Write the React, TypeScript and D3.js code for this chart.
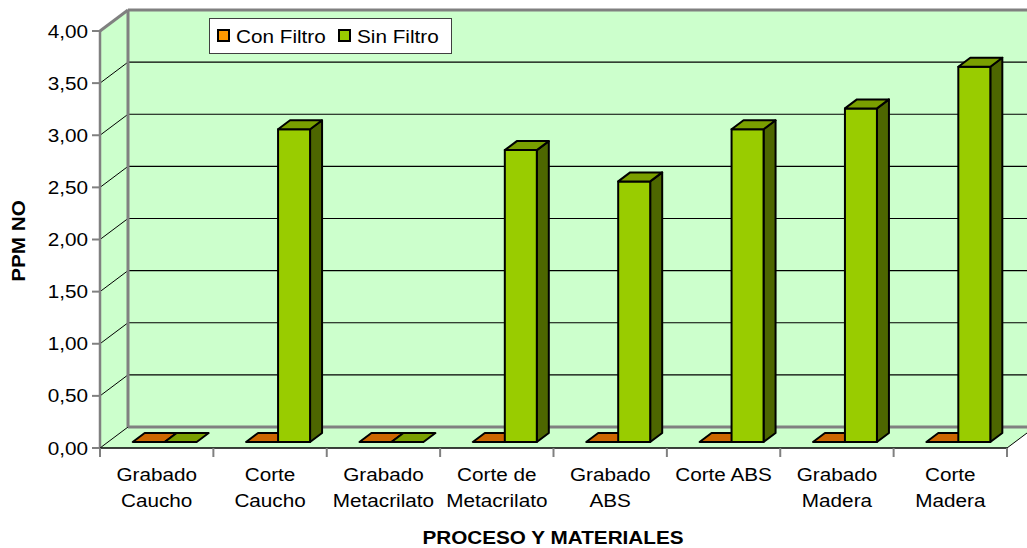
import React from "react";
import * as d3 from "d3";

const categories = [
  "Grabado\nCaucho",
  "Corte\nCaucho",
  "Grabado\nMetacrilato",
  "Corte de\nMetacrilato",
  "Grabado\nABS",
  "Corte ABS",
  "Grabado\nMadera",
  "Corte\nMadera",
];
const seriesNames = ["Con Filtro", "Sin Filtro"];
const conFiltro = [0, 0, 0, 0, 0, 0, 0, 0];
const sinFiltro = [0, 3.0, 0, 2.8, 2.5, 3.0, 3.2, 3.6];
const yTicks = [0, 0.5, 1, 1.5, 2, 2.5, 3, 3.5, 4];
const yTitle = "PPM NO";
const xTitle = "PROCESO Y MATERIALES";

const W = 1027;
const H = 548;
const FONT = "'Liberation Sans', Arial, sans-serif";
const FS = 18.5;
const SX = 1.12;

const colors = {
  front: ["#FF9900", "#99CC00"],
  top: ["#CC6600", "#7A9F00"],
  side: ["#995000", "#4D6600"],
};

function T({ x, y, anchor = "middle", bold = false, rotate = 0, children }: any) {
  return (
    <text
      transform={`translate(${x},${y}) rotate(${rotate}) scale(${SX},1)`}
      textAnchor={anchor}
      fontFamily={FONT}
      fontSize={FS}
      fontWeight={bold ? "bold" : "normal"}
      fill="#000"
    >
      {children}
    </text>
  );
}

export default function App() {
  const y = d3.scaleLinear().domain([0, 4]).range([448, 31]);
  const x = d3.scaleBand<string>().domain(categories).range([100, 1007]);
  const bw = x.bandwidth();
  const groupW = 64;
  const xs = d3.scaleBand<string>().domain(seriesNames).range([0, groupW]);
  const DX = 28, DY = -21; // full depth
  const FX = 8, FY = -6; // bar front offset
  const BX = 12, BY = -9; // bar depth
  const fmt = (v: number) => d3.format(".2f")(v).replace(".", ",");

  const x0 = 100, x1 = 1007;
  const y0 = y(0), yTop = y(4);

  const data = [conFiltro, sinFiltro];

  const bars: any[] = [];
  categories.forEach((c, i) => {
    const gx = (x(c) as number) + (bw - groupW) / 2;
    seriesNames.forEach((s, si) => {
      const v = data[si][i];
      const bx = gx + (xs(s) as number) + FX;
      const w = xs.bandwidth();
      const yt = y(v) + FY;
      const yb = y(0) + FY;
      const top = `${bx},${yt} ${bx + w},${yt} ${bx + w + BX},${yt + BY} ${bx + BX},${yt + BY}`;
      const side = `${bx + w},${yt} ${bx + w + BX},${yt + BY} ${bx + w + BX},${yb + BY} ${bx + w},${yb}`;
      bars.push(
        <g key={`${c}-${s}`} stroke="#000" strokeWidth={2} strokeLinejoin="round">
          {v > 0 && <polygon points={side} fill={colors.side[si]} />}
          {v > 0 && <rect x={bx} y={yt} width={w} height={yb - yt} fill={colors.front[si]} />}
          <polygon points={top} fill={colors.top[si]} />
        </g>
      );
    });
  });

  return (
    <svg width={W} height={H} style={{ position: "absolute", left: 0, top: 0, background: "#fff" }}>
      {/* walls */}
      <rect x={x0 + DX} y={yTop + DY} width={x1 - x0} height={y0 - yTop} fill="#CCFFCC" />
      <polygon points={`${x0},${y0} ${x0 + DX},${y0 + DY} ${x0 + DX},${yTop + DY} ${x0},${yTop}`} fill="#CCFFCC" />
      <polygon points={`${x0},${y0} ${x1},${y0} ${x1 + DX},${y0 + DY} ${x0 + DX},${y0 + DY}`} fill="#CCFFCC" />

      {/* gridlines */}
      {yTicks.map((v) => {
        const gy = y(v);
        const edge = v === 0 || v === 4;
        return (
          <g key={v}>
            <line x1={x0} y1={gy} x2={x0 + DX} y2={gy + DY} stroke={v === 4 ? "#808080" : "#000"} strokeWidth={v === 4 ? 3 : 1} />
            <line x1={x0 + DX} y1={gy + DY} x2={x1 + DX} y2={gy + DY} stroke={edge ? "#808080" : "#000"} strokeWidth={edge ? 3 : 1.2} />
          </g>
        );
      })}
      {/* back wall left edge */}
      <line x1={x0 + DX} y1={yTop + DY} x2={x0 + DX} y2={y0 + DY} stroke="#808080" strokeWidth={3} />
      {/* floor right edge */}
      <line x1={x1} y1={y0} x2={x1 + DX} y2={y0 + DY} stroke="#000" strokeWidth={1} />

      {/* front axes */}
      <line x1={x0} y1={yTop} x2={x0} y2={y0} stroke="#808080" strokeWidth={2.5} />
      {yTicks.map((v) => (
        <line key={v} x1={x0 - 8} y1={y(v)} x2={x0} y2={y(v)} stroke="#808080" strokeWidth={2} />
      ))}
      <line x1={x0} y1={y0} x2={x1} y2={y0} stroke="#000" strokeWidth={1.5} />
      {d3.range(categories.length + 1).map((k) => {
        const tx = x0 + k * bw;
        return <line key={k} x1={tx} y1={y0} x2={tx} y2={y0 + 9} stroke="#808080" strokeWidth={2} />;
      })}

      {bars}

      {/* y tick labels */}
      {yTicks.map((v) => (
        <T key={v} x={88} y={y(v) + 6.5} anchor="end">
          {fmt(v)}
        </T>
      ))}

      {/* category labels */}
      {categories.map((c) => {
        const cx = (x(c) as number) + bw / 2;
        return c.split("\n").map((line, li) => (
          <T key={c + li} x={cx} y={481 + li * 26}>
            {line}
          </T>
        ));
      })}

      {/* titles */}
      <T x={553} y={544} bold>
        {xTitle}
      </T>
      <T x={25} y={241} bold rotate={-90}>
        {yTitle}
      </T>

      {/* legend */}
      <rect x={209.5} y={18.5} width={242} height={35} fill="#fff" stroke="#404040" strokeWidth={1} />
      {seriesNames.map((s, si) => {
        const lx = [217, 338][si];
        return (
          <g key={s}>
            <rect x={lx + 1} y={30} width={11} height={11} fill={colors.front[si]} stroke="#000" strokeWidth={2} />
            <T x={lx + 19} y={42.5} anchor="start">
              {s}
            </T>
          </g>
        );
      })}
    </svg>
  );
}
